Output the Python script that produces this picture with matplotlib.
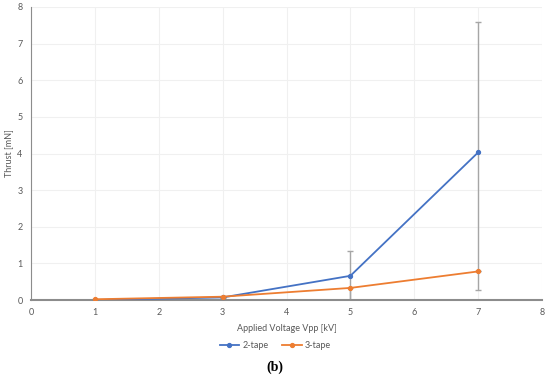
import matplotlib.pyplot as plt

voltage = [1, 3, 5, 7]
thrust_2tape = [0.0, 0.07, 0.66, 4.03]
err_2tape_low = [0.0, 0.02, 0.66, 3.25]
err_2tape_high = [0.0, 0.02, 0.67, 3.57]
thrust_3tape = [0.02, 0.09, 0.33, 0.78]
err_3tape_low = [0.01, 0.02, 0.33, 0.50]
err_3tape_high = [0.0, 0.0, 0.0, 0.0]

plt.rcParams['font.family'] = ['Lato', 'DejaVu Sans']

fig = plt.figure(figsize=(5.5, 3.79), dpi=100)
ax = fig.add_axes([31 / 550, 1 - 300 / 379, 511 / 550, 293 / 379])

# error bars first so the lines sit on top
ax.errorbar(voltage, thrust_2tape, yerr=[err_2tape_low, err_2tape_high], fmt='none',
            ecolor='#a6a6a6', elinewidth=1.0, capsize=2, capthick=1.0, zorder=2)
ax.errorbar(voltage, thrust_3tape, yerr=[err_3tape_low, err_3tape_high], fmt='none',
            ecolor='#a6a6a6', elinewidth=1.0, capsize=2, capthick=1.0, zorder=2)

ax.plot(voltage, thrust_2tape, color='#4472C4', lw=1.3, marker='o', ms=2.8,
        label='2-tape', zorder=3)
ax.plot(voltage, thrust_3tape, color='#ED7D31', lw=1.3, marker='o', ms=2.8,
        label='3-tape', zorder=4)

ax.set_xlim(0, 8)
ax.set_ylim(0, 8)
ax.set_xticks(range(0, 9))
ax.set_yticks(range(0, 9))
ax.grid(True, color='#f0f0f0', lw=0.8)
ax.set_axisbelow(True)

for s in ['top', 'right']:
    ax.spines[s].set_visible(False)
ax.spines['left'].set_color('#8c8c8c')
ax.spines['bottom'].set_color('#8c8c8c')
ax.spines['bottom'].set_linewidth(1.5)
ax.tick_params(length=0, labelsize=6.5, colors='#595959', pad=6)

ax.set_xlabel('Applied Voltage Vpp [kV]', fontsize=6.5, color='#595959', labelpad=5)
ax.set_ylabel('Thrust [mN]', fontsize=6.5, color='#595959', labelpad=3)

fig.legend(loc='center', bbox_to_anchor=(275 / 550, 1 - 346 / 379), ncol=2,
           frameon=False, fontsize=6.5, labelcolor='#595959', handlelength=2.2,
           columnspacing=1.5, handletextpad=0.3)

fig.text(275 / 550, 1 - 367 / 379, '(b)', ha='center', va='center',
         fontsize=10, fontweight='bold', family='Liberation Serif')

fig.savefig('out.png', dpi=100)
